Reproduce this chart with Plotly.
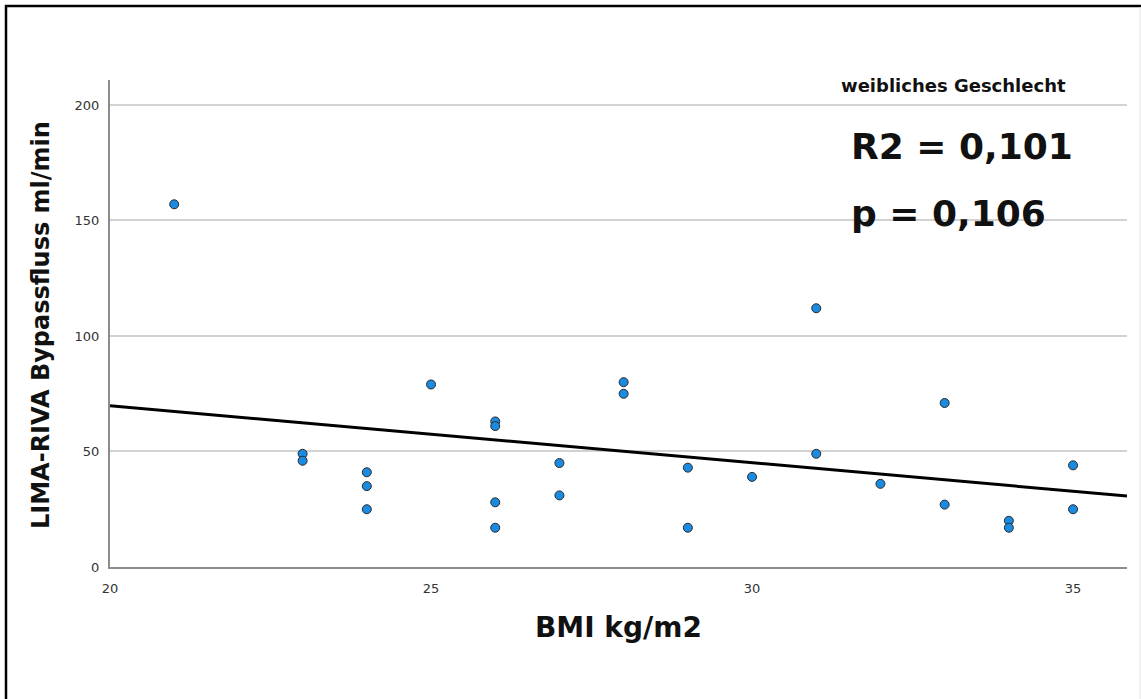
import numpy as np
import plotly.graph_objects as go

# Data
bmi = [21, 23, 23, 24, 24, 24, 25, 26, 26, 26, 26, 27, 27, 28, 28,
       29, 29, 30, 31, 31, 32, 33, 33, 34, 34, 35, 35]
flow = [157, 49, 46, 41, 35, 25, 79, 63, 61, 28, 17, 45, 31, 80, 75,
        43, 17, 39, 112, 49, 36, 71, 27, 20, 17, 44, 25]
x_ticks = [20, 25, 30, 35]
y_ticks = [0, 50, 100, 150, 200]
x_range = [20, 35.84]
y_range = [0, 210.8]
subtitle = "weibliches Geschlecht"
r2_text = "R2 = 0,101"
p_text = "p = 0,106"
x_title = "BMI kg/m2"
y_title = "LIMA-RIVA Bypassfluss ml/min"

slope, intercept = np.polyfit(bmi, flow, 1)
line_x = np.array(x_range)
line_y = intercept + slope * line_x

FONT = "DejaVu Sans"

fig = go.Figure()
fig.add_trace(go.Scatter(
    x=line_x, y=line_y, mode="lines",
    line=dict(color="black", width=3), hoverinfo="skip", showlegend=False))
fig.add_trace(go.Scatter(
    x=bmi, y=flow, mode="markers",
    marker=dict(size=9, color="#1a8be0", line=dict(color="#2a2a2a", width=1)),
    showlegend=False))

W, H = 1141, 699
L, R, T, B = 110, 14, 80, 132
pw, ph = W - L - R, H - T - B

def px_x(p):
    return (p - L) / pw

def px_y(p):
    return (H - B - p) / ph

fig.update_layout(
    width=W, height=H,
    margin=dict(l=L, r=R, t=T, b=B),
    paper_bgcolor="white", plot_bgcolor="white",
    font=dict(family=FONT, color="#222"),
    xaxis=dict(range=x_range, tickvals=x_ticks, showgrid=False, zeroline=False,
               showline=True, linecolor="#8c8c8c", linewidth=2, ticks="",
               ticklabelstandoff=8, tickfont=dict(size=13, color="#333")),
    yaxis=dict(range=y_range, tickvals=y_ticks, showgrid=True, gridcolor="#d2d2d2",
               gridwidth=1.5, zeroline=False, showline=True, linecolor="#8c8c8c",
               linewidth=2, ticks="", ticklabelstandoff=6,
               tickfont=dict(size=13, color="#333")),
    shapes=[
        dict(type="rect", xref="paper", yref="paper",
             x0=px_x(6), x1=px_x(1150), y0=px_y(720), y1=px_y(6),
             line=dict(color="black", width=2.5), layer="above"),
        dict(type="line", xref="paper", yref="paper",
             x0=px_x(1140), x1=px_x(1140), y0=px_y(720), y1=px_y(7),
             line=dict(color="#e6e6e6", width=1), layer="above"),
    ],
    annotations=[
        dict(text=f"<b>{subtitle}</b>", xref="paper", yref="paper",
             x=px_x(953), y=px_y(85), xanchor="center", yanchor="middle",
             showarrow=False, font=dict(size=18, color="#111", family=FONT)),
        dict(text=f"<b>{r2_text}</b>", xref="paper", yref="paper",
             x=px_x(849), y=px_y(146), xanchor="left", yanchor="middle",
             showarrow=False, font=dict(size=36, color="#111", family=FONT)),
        dict(text=f"<b>{p_text}</b>", xref="paper", yref="paper",
             x=px_x(849), y=px_y(214), xanchor="left", yanchor="middle",
             showarrow=False, font=dict(size=36, color="#111", family=FONT)),
        dict(text=f"<b>{x_title}</b>", xref="paper", yref="paper",
             x=0.5, y=px_y(627), xanchor="center", yanchor="middle",
             showarrow=False, font=dict(size=28, color="#111", family=FONT)),
        dict(text=f"<b>{y_title}</b>", xref="paper", yref="paper",
             x=px_x(41), y=px_y(325), xanchor="center", yanchor="middle",
             textangle=-90, showarrow=False,
             font=dict(size=24, color="#111", family=FONT)),
    ],
)

fig.write_html("out.html", config={"displayModeBar": False},
               post_script="document.body.style.margin='0px';document.body.style.overflow='hidden';")
